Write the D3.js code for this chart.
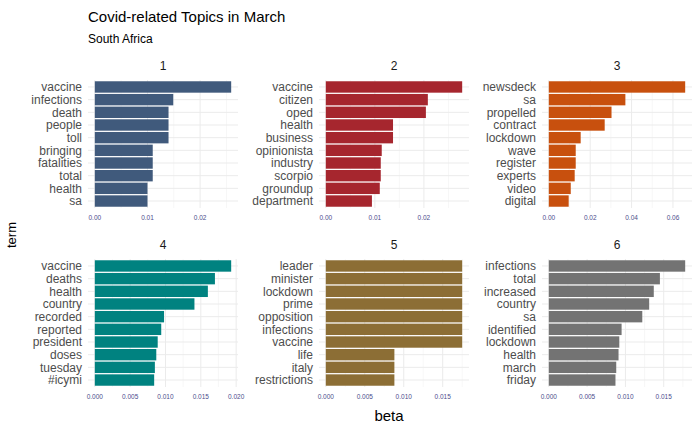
<!DOCTYPE html>
<html><head><meta charset="utf-8">
<script src="https://cdn.jsdelivr.net/npm/d3@7"></script>
<style>body{margin:0;background:#fff}text{font-family:Arial,"Liberation Sans",sans-serif}</style>
</head><body><svg></svg>
<script>
var topics = ['1', '2', '3', '4', '5', '6'];
var colors = ['#405a7c', '#a6262e', '#c8500e', '#008280', '#8c6e35', '#737373'];
var terms = [
  ['vaccine', 'infections', 'death', 'people', 'toll', 'bringing', 'fatalities', 'total', 'health', 'sa'],
  ['vaccine', 'citizen', 'oped', 'health', 'business', 'opinionista', 'industry', 'scorpio', 'groundup', 'department'],
  ['newsdeck', 'sa', 'propelled', 'contract', 'lockdown', 'wave', 'register', 'experts', 'video', 'digital'],
  ['vaccine', 'deaths', 'health', 'country', 'recorded', 'reported', 'president', 'doses', 'tuesday', '#icymi'],
  ['leader', 'minister', 'lockdown', 'prime', 'opposition', 'infections', 'vaccine', 'life', 'italy', 'restrictions'],
  ['infections', 'total', 'increased', 'country', 'sa', 'identified', 'lockdown', 'health', 'march', 'friday']
];
var betas = [
  [0.0259, 0.0149, 0.0140, 0.0140, 0.0140, 0.0110, 0.0110, 0.0110, 0.0100, 0.0100],
  [0.0278, 0.0208, 0.0204, 0.0137, 0.0137, 0.0114, 0.0112, 0.0112, 0.0110, 0.0094],
  [0.0659, 0.0370, 0.0303, 0.0270, 0.0154, 0.0130, 0.0130, 0.0125, 0.0106, 0.0096],
  [0.0193, 0.0170, 0.0160, 0.0141, 0.0098, 0.0094, 0.0089, 0.0087, 0.0085, 0.0084],
  [0.0175, 0.0175, 0.0175, 0.0175, 0.0175, 0.0175, 0.0175, 0.0088, 0.0088, 0.0088],
  [0.0178, 0.0145, 0.0137, 0.0131, 0.0122, 0.0095, 0.0092, 0.0091, 0.0088, 0.0087]
];
var tickSets = [
  [0, 0.01, 0.02], [0, 0.01, 0.02], [0, 0.02, 0.04, 0.06],
  [0, 0.005, 0.01, 0.015, 0.02], [0, 0.005, 0.01, 0.015], [0, 0.005, 0.01, 0.015]
];
var tickFmt = [d3.format('.2f'), d3.format('.2f'), d3.format('.2f'), d3.format('.3f'), d3.format('.3f'), d3.format('.3f')];

var svg = d3.select('svg').attr('width', 700).attr('height', 432);
svg.append('text').attr('x', 88).attr('y', 22).style('font-size', '15px').text('Covid-related Topics in March');
svg.append('text').attr('x', 88).attr('y', 43).style('font-size', '12px').text('South Africa');
svg.append('text').attr('transform', 'translate(16,235) rotate(-90)').attr('text-anchor', 'middle')
  .style('font-size', '13px').text('term');
svg.append('text').attr('x', 389).attr('y', 421).attr('text-anchor', 'middle').style('font-size', '15px').text('beta');

var colX = [88, 319, 542], colW = 150;
var rowY = [80, 259], rowH = 128;

topics.forEach(function(t, i) {
  var x0 = colX[i % 3], y0 = rowY[Math.floor(i / 3)];
  var g = svg.append('g').attr('transform', 'translate(' + x0 + ',' + y0 + ')');
  var mx = d3.max(betas[i]);
  var x = d3.scaleLinear().domain([-0.05 * mx, mx * 1.05]).range([0, colW]);
  var y = d3.scaleBand().domain(terms[i]).range([0, rowH]).padding(0.1);
  // minor grid
  var tk = tickSets[i], step = tk[1] - tk[0];
  var minors = tk.map(function(v) { return v + step / 2; }).filter(function(v) { return v < x.domain()[1]; });
  g.selectAll('.mn').data(minors).enter().append('line')
    .attr('x1', x).attr('x2', x).attr('y1', 0).attr('y2', rowH).attr('stroke', '#f2f2f2').attr('stroke-width', 0.6);
  g.selectAll('.mj').data(tk).enter().append('line')
    .attr('x1', x).attr('x2', x).attr('y1', 0).attr('y2', rowH).attr('stroke', '#ebebeb').attr('stroke-width', 1);
  g.selectAll('.hg').data(terms[i]).enter().append('line')
    .attr('x1', 0).attr('x2', colW).attr('y1', function(d) { return y(d) + y.bandwidth() / 2; })
    .attr('y2', function(d) { return y(d) + y.bandwidth() / 2; }).attr('stroke', '#ebebeb');
  g.selectAll('rect').data(betas[i]).enter().append('rect')
    .attr('x', x(0)).attr('y', function(d, j) { return y(terms[i][j]); })
    .attr('width', function(d) { return x(d) - x(0); }).attr('height', y.bandwidth())
    .attr('fill', colors[i]);
  g.selectAll('.tl').data(terms[i]).enter().append('text')
    .attr('x', -6).attr('y', function(d) { return y(d) + y.bandwidth() / 2; }).attr('dy', '0.36em')
    .attr('text-anchor', 'end').style('font-size', '12px').attr('fill', '#4d4d4d').text(function(d) { return d; });
  g.selectAll('.xt').data(tk).enter().append('text')
    .attr('x', x).attr('y', rowH + 12).attr('text-anchor', 'middle').style('font-size', '6.5px')
    .attr('fill', '#4d4d8c').text(tickFmt[i]);
  g.append('text').attr('x', colW / 2).attr('y', -10).attr('text-anchor', 'middle')
    .style('font-size', '12px').attr('fill', '#1a1a1a').text(t);
});
</script></body></html>
